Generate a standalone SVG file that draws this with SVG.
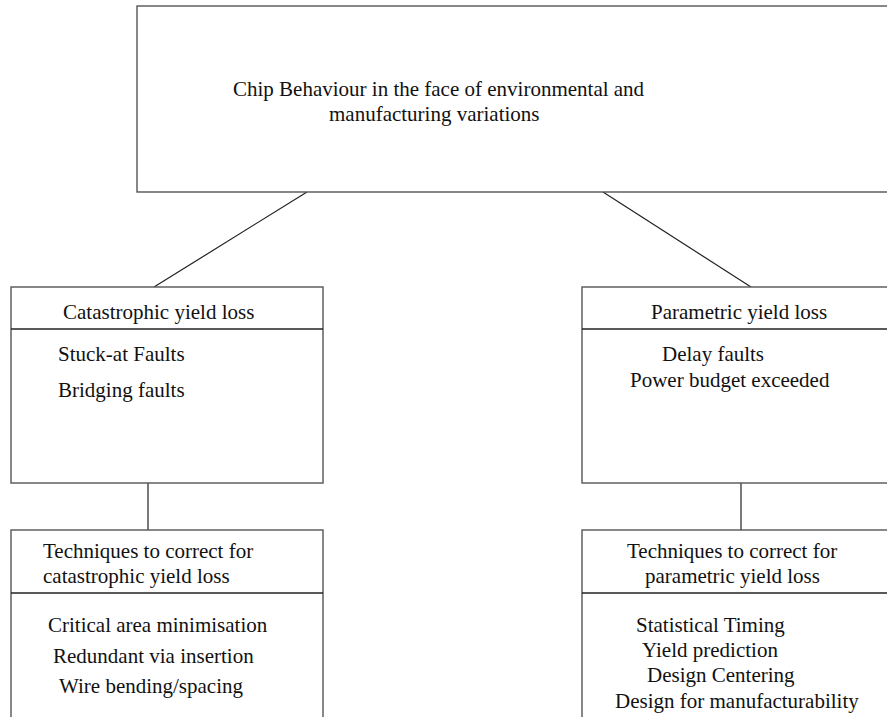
<svg xmlns="http://www.w3.org/2000/svg" width="887" height="717" viewBox="0 0 887 717">
  <style>
    .box { fill: #ffffff; stroke: #555555; stroke-width: 1.4; }
    .rule { stroke: #222222; stroke-width: 1.3; }
    .link { stroke: #222222; stroke-width: 1.2; fill: none; }
    text { font-family: "Liberation Serif", "Times New Roman", serif; font-size: 21px; fill: #111111; }
  </style>
  <rect width="887" height="717" fill="#ffffff"/>

  <g id="connectors">
    <line class="link" x1="307" y1="192" x2="154" y2="287"/>
    <line class="link" x1="603" y1="192" x2="751" y2="287"/>
    <line class="link" x1="148" y1="483" x2="148" y2="530"/>
    <line class="link" x1="741" y1="483" x2="741" y2="530"/>
  </g>

  <g id="chip-behaviour">
    <rect class="box" x="137" y="6" width="780" height="186"/>
    <text x="233" y="96">Chip Behaviour in the face of environmental and</text>
    <text x="329" y="121">manufacturing variations</text>
  </g>

  <g id="catastrophic-yield-loss">
    <rect class="box" x="11" y="287" width="312" height="196"/>
    <line class="rule" x1="11" y1="329" x2="323" y2="329"/>
    <text x="63" y="319">Catastrophic yield loss</text>
    <text x="58" y="361">Stuck-at Faults</text>
    <text x="58" y="397">Bridging faults</text>
  </g>

  <g id="parametric-yield-loss">
    <rect class="box" x="582" y="287" width="340" height="196"/>
    <line class="rule" x1="582" y1="329" x2="922" y2="329"/>
    <text x="651" y="319">Parametric yield loss</text>
    <text x="662" y="361">Delay faults</text>
    <text x="630" y="387">Power budget exceeded</text>
  </g>

  <g id="catastrophic-techniques">
    <rect class="box" x="11" y="530" width="312" height="220"/>
    <line class="rule" x1="11" y1="593" x2="323" y2="593"/>
    <text x="43" y="558">Techniques to correct for</text>
    <text x="43" y="583">catastrophic yield loss</text>
    <text x="48" y="632">Critical area minimisation</text>
    <text x="53" y="663">Redundant via insertion</text>
    <text x="59" y="693">Wire bending/spacing</text>
  </g>

  <g id="parametric-techniques">
    <rect class="box" x="582" y="530" width="340" height="220"/>
    <line class="rule" x1="582" y1="593" x2="922" y2="593"/>
    <text x="627" y="558">Techniques to correct for</text>
    <text x="645" y="583">parametric yield loss</text>
    <text x="636" y="632">Statistical Timing</text>
    <text x="642" y="657">Yield prediction</text>
    <text x="647" y="682">Design Centering</text>
    <text x="615" y="708">Design for manufacturability</text>
  </g>
</svg>
